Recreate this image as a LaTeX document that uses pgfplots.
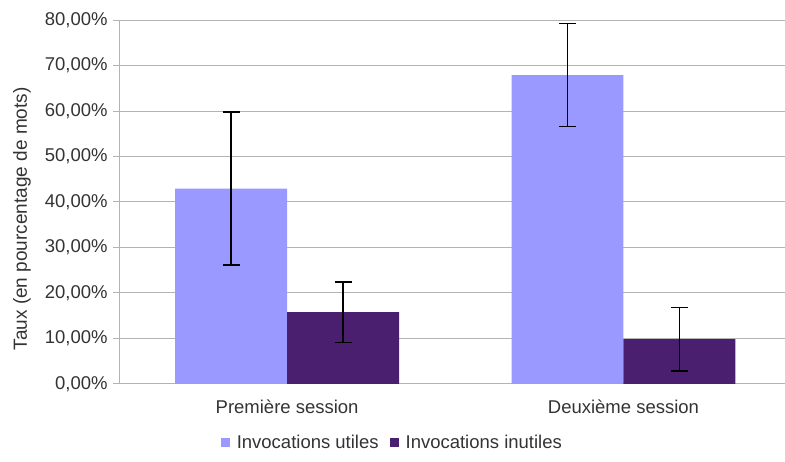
\documentclass[border=0pt]{standalone}
\usepackage{pgfplots}
\pgfplotsset{compat=1.18}
\usepackage{fontspec}
\setmainfont{Liberation Sans}
\definecolor{utiles}{HTML}{9999FF}
\definecolor{inutiles}{HTML}{4B1F6F}
\definecolor{gridc}{HTML}{B3B3B3}
\definecolor{txt}{HTML}{333333}
\begin{document}
\fontsize{18.5}{22}\selectfont
\begin{tikzpicture}
\begin{axis}[
  at={(0,0)}, anchor=south west,
  scale only axis,
  width=666pt, height=364pt,
  ybar=0pt, bar width=112pt,
  xmin=-0.5, xmax=1.479,
  ymin=0, ymax=80, ytick distance=10,
  axis lines*=left,
  axis line style={gridc, line width=0.8pt},
  ymajorgrids, major grid style={gridc, line width=0.8pt},
  tick align=outside, major tick length=6pt,
  tick style={gridc, line width=0.8pt},
  xtick={0,1}, xticklabels={Première session, Deuxième session},
  x tick style={draw=none},
  extra x ticks={-0.5,0.5,1.5}, extra x tick labels={},
  extra x tick style={grid=none, tick style={gridc, line width=0.8pt}, major tick length=6pt},
  /pgf/number format/assume math mode=true,
  yticklabel={\pgfmathprintnumber[fixed,fixed zerofill,precision=2,use comma]{\tick}\%},
  ticklabel style={font=\fontsize{18.5}{22}\selectfont, text=txt},
  yticklabel style={xshift=1pt},
  xticklabel style={yshift=-4pt},
  ylabel={Taux (en pourcentage de mots)},
  ylabel style={font=\fontsize{19}{22}\selectfont, text=txt, at={([xshift=-97pt,yshift=-17pt]axis description cs:0,0.5)}, anchor=center},
  legend columns=2,
  legend style={draw=none, fill=none, at={([yshift=-59pt]axis description cs:0.4107,0)}, anchor=center,
    font=\fontsize{18.5}{22}\selectfont, text=txt,
    /tikz/every odd column/.append style={column sep=5pt},
    /tikz/every even column/.append style={column sep=9pt}},
  legend image code/.code={\fill[#1] (0pt,-4.5pt) rectangle (9pt,4.5pt);},
  error bars/y dir=both, error bars/y explicit,
  error bars/error bar style={black, line width=1.7pt},
  error bars/error mark options={rotate=90, mark size=8.5pt, line width=1.7pt, black},
]
\addplot[fill=utiles, draw=none] coordinates {(0,42.9) +- (0,16.8) (1,67.9) +- (0,11.3)};
\addplot[fill=inutiles, draw=none] coordinates {(0,15.75) +- (0,6.7) (1,9.8) +- (0,7.0)};
\legend{Invocations utiles, Invocations inutiles}
\end{axis}
\path[use as bounding box] (-119pt,-78pt) rectangle (666pt,384pt);
\end{tikzpicture}
\end{document}
